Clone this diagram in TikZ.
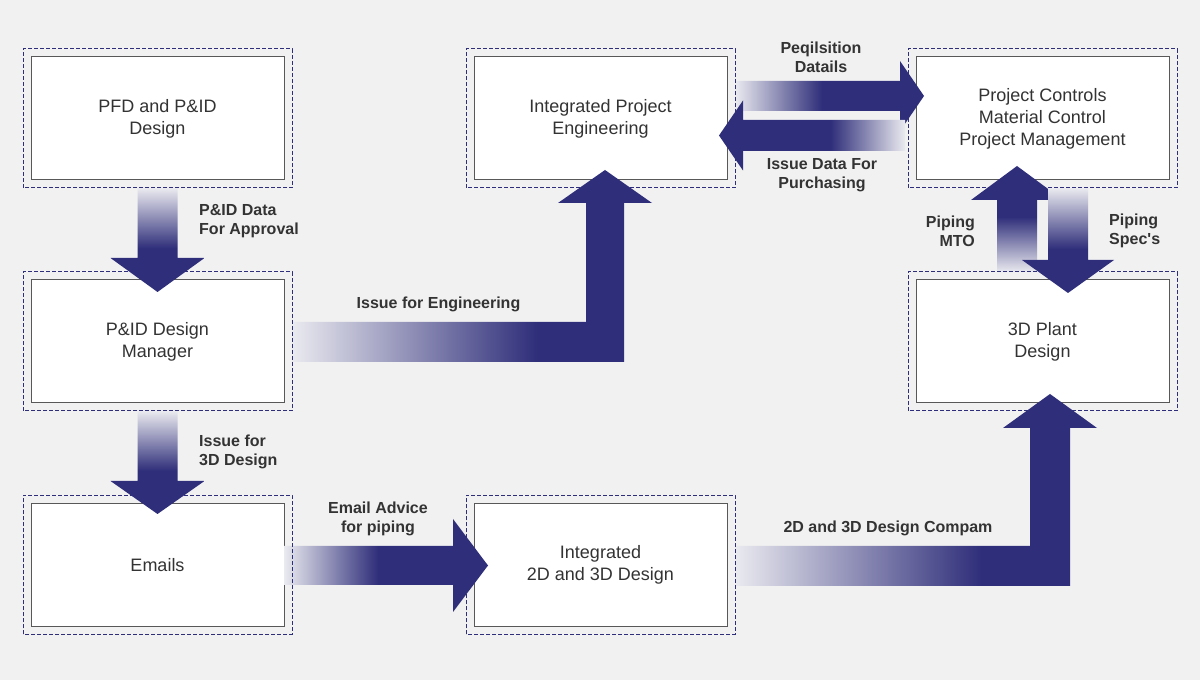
\documentclass[tikz,border=0pt]{standalone}
\usepackage{fontspec}
\setmainfont{Liberation Sans}
\definecolor{bgc}{RGB}{241,241,241}
\definecolor{arrowc}{RGB}{47,46,122}
\definecolor{lightc}{RGB}{234,234,240}
\definecolor{boxline}{RGB}{88,88,88}
\definecolor{textc}{RGB}{51,51,51}
% fades: 0bp..100bp, the path covers 25bp..75bp
\pgfdeclareverticalshading{fadedown}{100bp}{color(0bp)=(arrowc); color(46bp)=(arrowc); color(75bp)=(lightc); color(100bp)=(lightc)}
\pgfdeclareverticalshading{fadeup}{100bp}{color(0bp)=(lightc); color(25bp)=(lightc); color(51bp)=(arrowc); color(100bp)=(arrowc)}
\pgfdeclarehorizontalshading{faderight}{100bp}{color(0bp)=(lightc); color(25bp)=(lightc); color(48bp)=(arrowc); color(100bp)=(arrowc)}
\pgfdeclarehorizontalshading{faderightlong}{100bp}{color(0bp)=(lightc); color(25bp)=(lightc); color(59bp)=(arrowc); color(100bp)=(arrowc)}
\pgfdeclarehorizontalshading{fadeleft}{100bp}{color(0bp)=(arrowc); color(55bp)=(arrowc); color(75bp)=(lightc); color(100bp)=(lightc)}
\begin{document}
\begin{tikzpicture}[x=1pt,y=1pt,
  box/.style={draw=boxline, line width=1pt, fill=white, minimum width=253pt, minimum height=123pt,
    outer sep=0pt, align=center, text=textc, font=\fontsize{18}{22}\selectfont},
  frame/.style={draw=arrowc, line width=1pt, dash pattern=on 4pt off 2pt},
  lbl/.style={inner sep=0pt, text=textc, font=\bfseries\fontsize{16}{19}\selectfont}]
\useasboundingbox[fill=bgc] (0,0) rectangle (1200,680);
% boxes
\node[box] (pfd) at (157.5,561.5) {PFD and P\&ID\\Design};
\node[box] (pidm) at (157.5,338.5) {P\&ID Design\\ Manager};
\node[box] (mail) at (157.5,115) {Emails};
\node[box] (ipe) at (600.5,561.5) {Integrated Project\\Engineering};
\node[box] (i2d) at (600.5,115) {Integrated\\2D and 3D Design};
\node[box] (pcm) at (1042.5,561.5) {Project Controls\\Material Control\\Project Management};
\node[box] (plant) at (1042.5,338.5) {3D Plant\\Design};
% arrows
\shade[shading=fadedown] (137.5,492) -- (177.5,492) -- (177.5,422) -- (204.5,422) -- (157.5,388) -- (110.5,422) -- (137.5,422) -- cycle;
\shade[shading=fadedown] (137.5,269) -- (177.5,269) -- (177.5,199) -- (204.5,199) -- (157.5,166) -- (110.5,199) -- (137.5,199) -- cycle;
\shade[shading=faderightlong] (292,358) -- (586,358) -- (586,477) -- (558,477) -- (605,510) -- (652,477) -- (624,477) -- (624,318) -- (292,318) -- cycle;
\shade[shading=faderightlong] (735,134) -- (1030,134) -- (1030,252) -- (1003,252) -- (1050,286) -- (1097,252) -- (1070,252) -- (1070,94) -- (735,94) -- cycle;
\shade[shading=faderight] (284,134) -- (453,134) -- (453,161) -- (488,114.5) -- (453,68) -- (453,95) -- (284,95) -- cycle;
\shade[shading=faderight] (735,599) -- (900,599) -- (900,619) -- (924,584) -- (900,549) -- (900,569) -- (735,569) -- cycle;
\shade[shading=fadeleft] (905,560) -- (743,560) -- (743,579.5) -- (719,544.5) -- (743,509.5) -- (743,529) -- (905,529) -- cycle;
\shade[shading=fadeup] (997,408) -- (997,480) -- (971,480) -- (1017,514) -- (1063,480) -- (1037,480) -- (1037,408) -- cycle;
\shade[shading=fadedown] (1048,492) -- (1088,492) -- (1088,420) -- (1114,420) -- (1068,387) -- (1022,420) -- (1048,420) -- cycle;
% dashed frames
\foreach \n in {pfd,pidm,mail,ipe,i2d,pcm,plant}
  \draw[frame] ([shift={(-8,-8)}]\n.south west) rectangle ([shift={(8,8)}]\n.north east);
% labels
\node[lbl, anchor=west, align=left] (lapprove) at (199,459) {P\&ID Data\\For Approval};
\node[lbl, anchor=west, align=left] (lissue3d) at (199,228.5) {Issue for\\3D Design};
\node[lbl] (lissueeng) at (438.5,376) {Issue for Engineering};
\node[lbl, align=center] (ladvice) at (378,161.5) {Email Advice\\for piping};
\node[lbl, align=center] (lreq) at (821,622.5) {Peqilsition\\Datails};
\node[lbl, align=center] (lpurch) at (822,505) {Issue Data For\\Purchasing};
\node[lbl, anchor=east, align=right] (lmto) at (975,449) {Piping\\MTO};
\node[lbl, anchor=west, align=left] (lspec) at (1109,449) {Piping\\Spec\textquotesingle s};
\node[lbl] (lcompare) at (888,152) {2D and 3D Design Compam};
\end{tikzpicture}
\end{document}
